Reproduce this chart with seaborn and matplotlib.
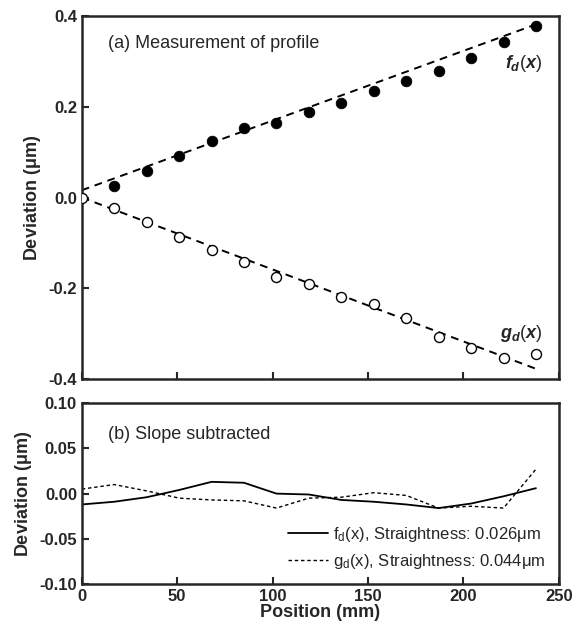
import numpy as np
import pandas as pd
import seaborn as sns
import matplotlib.pyplot as plt

##############
#### DATA ####
##############

position = [0, 17, 34, 51, 68, 85, 102, 119, 136, 153, 170, 187, 204, 221, 238]

f_meas = [np.nan, 0.026, 0.059, 0.092, 0.125, 0.152, 0.165, 0.189, 0.209,
          0.235, 0.257, 0.279, 0.308, 0.343, 0.378]
g_meas = [0.0, -0.022, -0.055, -0.088, -0.116, -0.143, -0.176, -0.191, -0.220,
          -0.235, -0.266, -0.308, -0.332, -0.354, -0.345]

fit_x = [0, 238]
fit_f = [0.016, 0.381]
fit_g = [0.0, -0.377]

f_resid = [-0.012, -0.009, -0.004, 0.004, 0.013, 0.012, 0.0, -0.001, -0.007,
           -0.009, -0.012, -0.016, -0.011, -0.003, 0.006]
g_resid = [0.005, 0.010, 0.003, -0.005, -0.007, -0.008, -0.016, -0.005, -0.004,
           0.001, -0.002, -0.016, -0.014, -0.016, 0.027]

f_label = r'f$_\mathregular{d}$(x), Straightness: 0.026$\mathregular{\mu}$m'
g_label = r'g$_\mathregular{d}$(x), Straightness: 0.044$\mathregular{\mu}$m'

meas = pd.DataFrame({'Position': position, 'f': f_meas, 'g': g_meas})
fits = pd.DataFrame({'Position': fit_x, 'f': fit_f, 'g': fit_g})
resid = pd.DataFrame({'Position': position, 'f': f_resid, 'g': g_resid})

###############
#### STYLE ####
###############

sns.set_style('ticks')
plt.rcParams['font.family'] = ['Liberation Sans', 'DejaVu Sans']
plt.rcParams['mathtext.fontset'] = 'custom'
plt.rcParams['mathtext.rm'] = 'Liberation Sans'
plt.rcParams['mathtext.it'] = 'Liberation Sans:italic:bold'
plt.rcParams['mathtext.bf'] = 'Liberation Sans:bold'
plt.rcParams['axes.linewidth'] = 1.8
plt.rcParams['xtick.direction'] = 'in'
plt.rcParams['ytick.direction'] = 'in'

fig = plt.figure(figsize=(5.72, 6.3), dpi=100)
ax1 = fig.add_axes([0.143, 0.398, 0.834, 0.577])
ax2 = fig.add_axes([0.143, 0.073, 0.834, 0.287])

#####################
#### (a) PROFILE ####
#####################

sns.lineplot(data=fits, x='Position', y='f', ax=ax1, color='black', lw=1.4,
             linestyle=(0, (4, 3)))
sns.lineplot(data=fits, x='Position', y='g', ax=ax1, color='black', lw=1.4,
             linestyle=(0, (4, 3)))
sns.scatterplot(data=meas, x='Position', y='f', ax=ax1, color='black', s=58,
                edgecolor='black', zorder=3)
sns.scatterplot(data=meas, x='Position', y='g', ax=ax1, facecolor='white', s=52,
                edgecolor='black', linewidth=1.0, zorder=3)

ax1.set_xlim(0, 250)
ax1.set_ylim(-0.4, 0.4)
ax1.set_yticks([-0.4, -0.2, 0.0, 0.2, 0.4])
ax1.set_yticklabels(['-0.4', '-0.2', '0.0', '0.2', '0.4'])
ax1.set_xticks([0, 50, 100, 150, 200, 250])
ax1.set_xticklabels([])
ax1.set_xlabel('')
ax1.set_ylabel(r'Deviation ($\mathregular{\mu}$m)', fontsize=13, fontweight='bold')
ax1.text(0.055, 0.91, '(a) Measurement of profile', transform=ax1.transAxes,
         fontsize=13)
ax1.text(222, 0.296, r'$f_d(x)$', fontsize=13, va='center')
ax1.text(219, -0.300, r'$g_d(x)$', fontsize=13, va='center')

#######################
#### (b) RESIDUALS ####
#######################

sns.lineplot(data=resid, x='Position', y='f', ax=ax2, color='black', lw=1.3,
             label=f_label)
sns.lineplot(data=resid, x='Position', y='g', ax=ax2, color='black', lw=1.0,
             linestyle=(0, (2.5, 2)), label=g_label)

ax2.set_xlim(0, 250)
ax2.set_ylim(-0.1, 0.1)
ax2.set_yticks([-0.10, -0.05, 0.00, 0.05, 0.10])
ax2.set_yticklabels(['-0.10', '-0.05', '0.00', '0.05', '0.10'])
ax2.set_xticks([0, 50, 100, 150, 200, 250])
ax2.set_xlabel('Position (mm)', fontsize=13, fontweight='bold', labelpad=0)
ax2.set_ylabel(r'Deviation ($\mathregular{\mu}$m)', fontsize=13, fontweight='bold')
ax2.text(0.055, 0.80, '(b) Slope subtracted', transform=ax2.transAxes,
         fontsize=13)
ax2.legend(loc='lower right', frameon=False, fontsize=12, handlelength=2.4,
           handletextpad=0.3, borderaxespad=0.4, labelspacing=0.45)

for ax in (ax1, ax2):
    ax.tick_params(labelsize=12, width=1.5, length=5)
    for lab in ax.get_xticklabels() + ax.get_yticklabels():
        lab.set_fontweight('bold')

plt.savefig('out.png', dpi=100)
plt.close()
